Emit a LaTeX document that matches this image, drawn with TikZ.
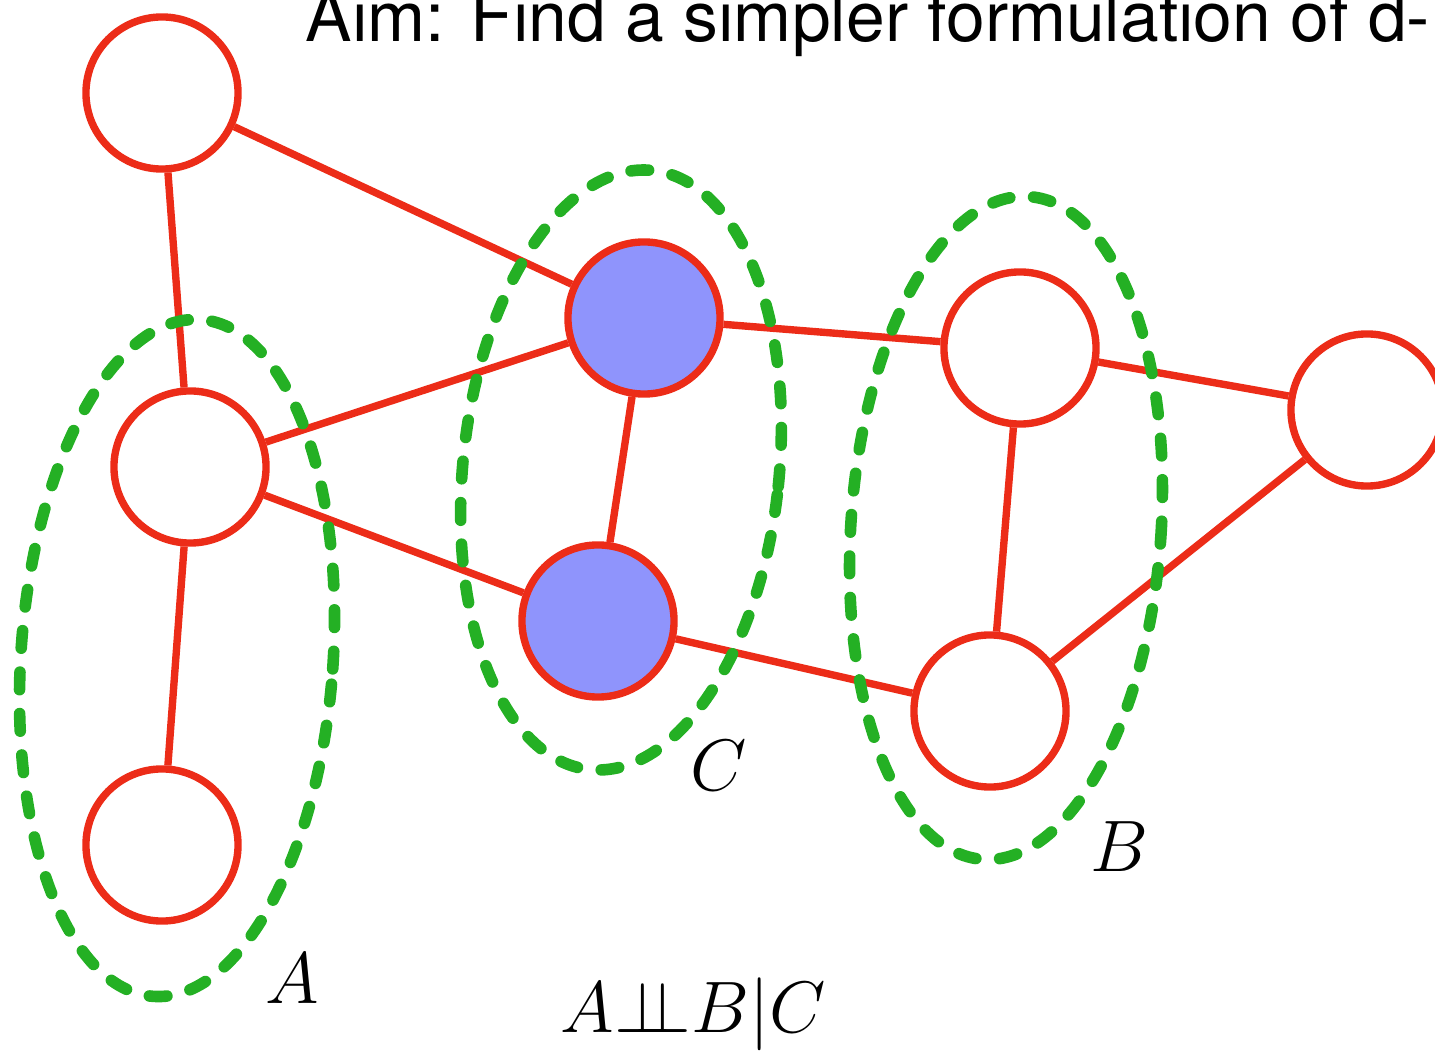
\documentclass[tikz,border=0pt]{standalone}
\usepackage{fontspec}
\newfontfamily\titlefont{TeX Gyre Heros}
\usetikzlibrary{shapes.geometric}

\definecolor{edgered}{RGB}{236,44,24}
\definecolor{obsblue}{RGB}{143,148,252}
\definecolor{setgreen}{RGB}{36,176,36}

\begin{document}
\begin{tikzpicture}[
  x=0.01cm, y=-0.01cm,
  var/.style={circle,draw=edgered,line width=2.1pt,fill=white,minimum size=1.52cm,inner sep=0pt},
  obs/.style={var,fill=obsblue},
  set/.style={ellipse,draw=setgreen,line width=3.3pt,line cap=round,dash pattern=on 5pt off 6.8pt,inner sep=0pt},
  link/.style={draw=edgered,line width=2.1pt},
  lbl/.style={anchor=base west,font=\fontsize{20.5}{24}\selectfont}
]
\useasboundingbox (0,0) rectangle (1435,1052);

% title (cut by the page edge)
\node[anchor=base west,inner sep=0pt,font=\titlefont\fontsize{19.8}{23}\selectfont] (title) at (305,42) {Aim: Find a simpler formulation of d-};

% variables
\node[var] (a1) at (162,93) {};
\node[var] (a2) at (190,467) {};
\node[var] (a3) at (162,845) {};
\node[obs] (c1) at (644,318) {};
\node[obs] (c2) at (598,621) {};
\node[var] (b1) at (1020,348) {};
\node[var] (b2) at (990,711) {};
\node[var] (r)  at (1367,410) {};

% edges
\draw[link] (a1) -- (a2);
\draw[link] (a1) -- (c1);
\draw[link] (a2) -- (c1);
\draw[link] (a2) -- (c2);
\draw[link] (a2) -- (a3);
\draw[link] (c1) -- (c2);
\draw[link] (c1) -- (b1);
\draw[link] (c2) -- (b2);
\draw[link] (b1) -- (b2);
\draw[link] (b1) -- (r);
\draw[link] (b2) -- (r);

% sets
\node[set,minimum width=3.12cm,minimum height=6.78cm,rotate=-4] (setA) at (177,658) {};
\node[set,minimum width=3.16cm,minimum height=6.02cm,rotate=-6] (setC) at (621,470) {};
\node[set,minimum width=3.10cm,minimum height=6.64cm,rotate=-4] (setB) at (1006,528) {};

% labels
\node[lbl,inner sep=0pt] (labA) at (265,1004) {$A$};
\node[lbl,inner sep=0pt] (labC) at (690,791) {$C$};
\node[lbl,inner sep=0pt] (labB) at (1090,872) {$B$};
\node[lbl,inner sep=0pt] (indep) at (560,1033) {$A{\perp\!\!\!\perp}B|C$};
\end{tikzpicture}
\end{document}
